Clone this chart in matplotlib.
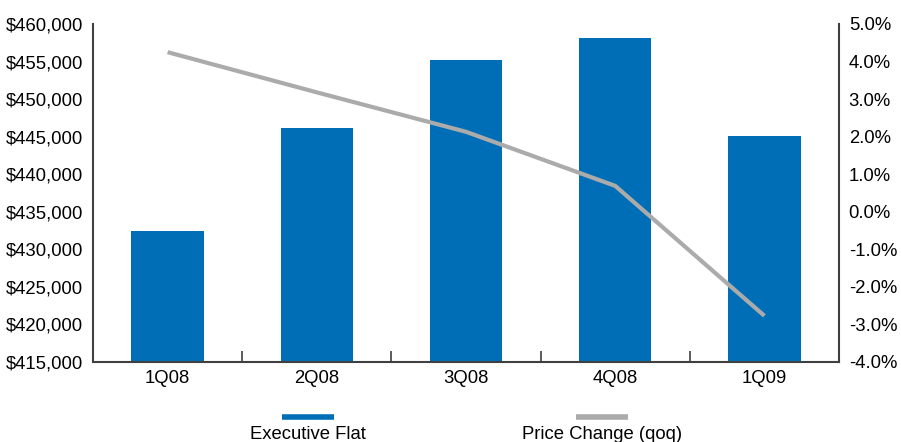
import matplotlib
matplotlib.use("Agg")
import matplotlib.pyplot as plt
from matplotlib.lines import Line2D
from matplotlib.ticker import FuncFormatter, FixedLocator
import numpy as np

plt.rcParams['font.family'] = ['Liberation Sans', 'DejaVu Sans']

categories = ["1Q08", "2Q08", "3Q08", "4Q08", "1Q09"]
executive_flat = [432500, 446200, 455200, 458150, 445100]
price_change = [4.25, 3.18, 2.13, 0.69, -2.77]
left_ticks = [415000, 420000, 425000, 430000, 435000, 440000, 445000, 450000, 455000, 460000]
right_ticks = [-4.0, -3.0, -2.0, -1.0, 0.0, 1.0, 2.0, 3.0, 4.0, 5.0]
legend_labels = ["Executive Flat", "Price Change (qoq)"]

blue = "#006EB6"
gray = "#ABABAB"
spine_col = "#404040"
fs = 13.3

fig = plt.figure(figsize=(9.01, 4.42), dpi=100)
ax = fig.add_axes([93/901, 1-362/442, (839-93)/901, (362-24)/442])
x = np.arange(len(categories))
ax.bar(x, executive_flat, width=0.485, color=blue, bottom=0, zorder=2)
ax.set_ylim(left_ticks[0], left_ticks[-1])
ax.set_xlim(-0.5, len(categories) - 0.5)
ax.yaxis.set_major_locator(FixedLocator(left_ticks))
ax.yaxis.set_major_formatter(FuncFormatter(lambda v, p: "${:,.0f}".format(v)))
ax.tick_params(axis='y', length=0, pad=7, labelsize=fs, colors='black')
ax.set_xticks(x)
ax.set_xticklabels(categories, fontsize=fs)
ax.set_xticks(np.arange(-0.5, len(categories)), minor=True)
ax.tick_params(axis='x', which='major', length=0, pad=6)
ax.tick_params(axis='x', which='minor', direction='in', length=8, width=1.2, color=spine_col)
ax.spines['top'].set_visible(False)
ax.spines['right'].set_visible(False)
ax.spines['left'].set_color(spine_col)
ax.spines['bottom'].set_color(spine_col)
ax.spines['left'].set_linewidth(1.5)
ax.spines['bottom'].set_linewidth(1.5)

ax2 = ax.twinx()
ax2.plot(x, price_change, color=gray, lw=3, solid_capstyle='butt', zorder=3)
ax2.set_ylim(right_ticks[0], right_ticks[-1])
ax2.yaxis.set_major_locator(FixedLocator(right_ticks))
ax2.yaxis.set_major_formatter(FuncFormatter(lambda v, p: "{:.1f}%".format(v)))
ax2.tick_params(axis='y', length=0, pad=7, labelsize=fs, colors='black')
for s in ['top', 'left', 'bottom']:
    ax2.spines[s].set_visible(False)
ax2.spines['right'].set_color(spine_col)
ax2.spines['right'].set_linewidth(1.5)

# legend (handles above labels)
for (cx, col, lab) in [(308, blue, legend_labels[0]), (602, gray, legend_labels[1])]:
    fig.add_artist(Line2D([(cx-26)/901, (cx+26)/901], [1-417/442, 1-417/442],
                          color=col, lw=4, solid_capstyle='butt', transform=fig.transFigure))
    fig.text(cx/901, 1-426/442, lab, ha='center', va='top', fontsize=fs)

fig.savefig("out.png", dpi=100)
